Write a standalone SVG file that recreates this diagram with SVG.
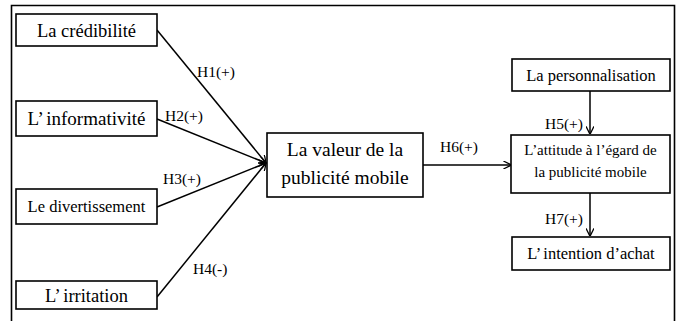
<svg xmlns="http://www.w3.org/2000/svg" width="680" height="321" viewBox="0 0 680 321">
<style>
  .box { fill: #fff; stroke: #000; stroke-width: 1.6; }
  .t { font-family: "Liberation Serif", "Times New Roman", serif; fill: #000; text-anchor: middle; }
  .lbl { font-family: "Liberation Serif", "Times New Roman", serif; fill: #000; font-size: 15.5px; }
  .con { stroke: #000; stroke-width: 1.5; fill: none; marker-end: url(#arr); }
</style>
<defs>
  <marker id="arr" viewBox="0 0 10 10" refX="9.5" refY="5" markerWidth="8" markerHeight="8" markerUnits="userSpaceOnUse" orient="auto">
    <path d="M0,0 L10,5 L0,10" fill="none" stroke="#000" stroke-width="1.6"/>
  </marker>
</defs>
<rect width="680" height="321" fill="#fff"/>
<path d="M11.5,321 V5.5 H674.5 V321" fill="none" stroke="#000" stroke-width="1.6"/>

<g id="connectors">
  <line class="con" x1="157" y1="30" x2="266" y2="163"/>
  <line class="con" x1="157" y1="119" x2="266" y2="163"/>
  <line class="con" x1="157" y1="207" x2="266" y2="163"/>
  <line class="con" x1="157" y1="297" x2="266" y2="163"/>
  <line class="con" x1="423" y1="165" x2="511" y2="165"/>
  <line class="con" x1="590" y1="91" x2="590" y2="134"/>
  <line class="con" x1="590" y1="193" x2="590" y2="236"/>
  <text class="lbl" x="197" y="77">H1(+)</text>
  <text class="lbl" x="165" y="121">H2(+)</text>
  <text class="lbl" x="163" y="184">H3(+)</text>
  <text class="lbl" x="193" y="274">H4(-)</text>
  <text class="lbl" x="440" y="152">H6(+)</text>
  <text class="lbl" x="545" y="129">H5(+)</text>
  <text class="lbl" x="545" y="224">H7(+)</text>
</g>

<g id="credibilite">
  <rect class="box" x="16" y="14" width="141" height="32"/>
  <text class="t" x="86.5" y="37" font-size="18.5">La crédibilité</text>
</g>
<g id="informativite">
  <rect class="box" x="16" y="101" width="141" height="35"/>
  <text class="t" x="86.5" y="125" font-size="19">L’<tspan dx="2.5">informativité</tspan></text>
</g>
<g id="divertissement">
  <rect class="box" x="16" y="189" width="141" height="35"/>
  <text class="t" x="86.5" y="212" font-size="16.5">Le divertissement</text>
</g>
<g id="irritation">
  <rect class="box" x="16" y="281" width="141" height="28"/>
  <text class="t" x="86.5" y="302" font-size="18.5">L’<tspan dx="2.5">irritation</tspan></text>
</g>
<g id="valeur">
  <rect class="box" x="267" y="133" width="156" height="64"/>
  <text class="t" x="345" y="156" font-size="19.5">La valeur de la</text>
  <text class="t" x="345" y="184" font-size="19.5">publicité mobile</text>
</g>
<g id="personnalisation">
  <rect class="box" x="512" y="59" width="158" height="32"/>
  <text class="t" x="591" y="81" font-size="16.5">La personnalisation</text>
</g>
<g id="attitude">
  <rect class="box" x="511" y="135" width="159" height="58"/>
  <text class="t" x="590.5" y="155" font-size="15">L’attitude à l’égard de</text>
  <text class="t" x="590.5" y="177" font-size="15">la publicité mobile</text>
</g>
<g id="intention">
  <rect class="box" x="512" y="237" width="158" height="33"/>
  <text class="t" x="591" y="259" font-size="16.5">L’<tspan dx="2">intention d’achat</tspan></text>
</g>
</svg>
